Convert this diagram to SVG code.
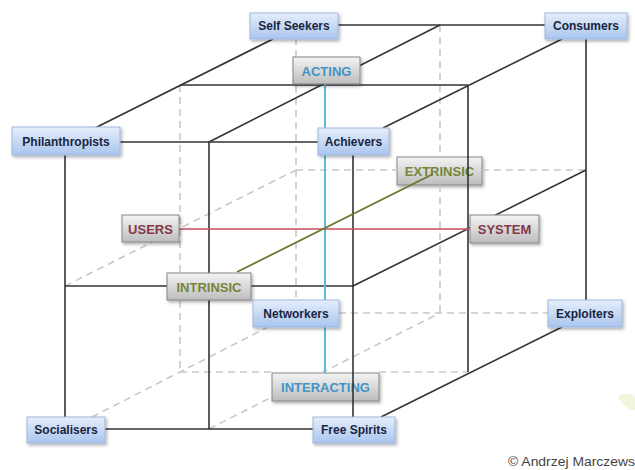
<svg xmlns="http://www.w3.org/2000/svg" width="635" height="470" viewBox="0 0 635 470">
<defs>
<linearGradient id="gNode" x1="0" y1="0" x2="0" y2="1">
<stop offset="0" stop-color="#e6eefb"/>
<stop offset="1" stop-color="#a9c5ee"/>
</linearGradient>
<linearGradient id="gAxis" x1="0" y1="0" x2="0" y2="1">
<stop offset="0" stop-color="#f4f4f4"/>
<stop offset="1" stop-color="#bdbdbd"/>
</linearGradient>
<filter id="sh" x="-20%" y="-30%" width="140%" height="170%">
<feDropShadow dx="1.5" dy="2" stdDeviation="1.5" flood-color="#000" flood-opacity="0.3"/>
</filter>
</defs>
<style>
.node rect{fill:url(#gNode);stroke:#9fb8dc;stroke-width:1;filter:url(#sh)}
.node text{font-family:"Liberation Sans",Arial,sans-serif;font-weight:bold;font-size:12px;fill:#1a2540;text-anchor:middle}
.axis rect{fill:url(#gAxis);stroke:#858585;stroke-width:1;filter:url(#sh)}
.axis text{font-family:"Liberation Sans",Arial,sans-serif;font-weight:bold;font-size:13px;text-anchor:middle}
.solid{stroke:#333;stroke-width:1.6;fill:none}
.dash{stroke:#c9c9c9;stroke-width:1.6;stroke-dasharray:7 5;fill:none}
.blue{fill:#4493c6}
.red{fill:#853848}
.olive{fill:#76863a}
</style>
<rect width="635" height="470" fill="#fff"/>

<g id="EXTRINSIC" class="axis"><rect x="397" y="157" width="85" height="28"/><text x="439.5" y="176" class="olive">EXTRINSIC</text></g>
<g id="INTERACTING" class="axis"><rect x="272" y="373" width="107" height="28"/><text x="325.5" y="392" class="blue">INTERACTING</text></g>

<g id="connectors">
<line class="dash" x1="296" y1="38" x2="296" y2="300"/>
<line class="dash" x1="339" y1="313" x2="548" y2="313"/>
<line class="dash" x1="92" y1="417" x2="268" y2="327"/>
<line class="dash" x1="440" y1="25" x2="440" y2="157"/>
<line class="dash" x1="440" y1="185" x2="440" y2="313"/>
<line class="dash" x1="296" y1="170" x2="397" y2="170"/>
<line class="dash" x1="482" y1="170" x2="586" y2="170"/>
<line class="dash" x1="180" y1="85" x2="180" y2="372"/>
<line class="dash" x1="65" y1="286" x2="296" y2="170"/>
<line class="dash" x1="180" y1="372" x2="272" y2="372"/>
<line class="dash" x1="379" y1="372" x2="468" y2="372"/>
<line class="dash" x1="209" y1="429" x2="272" y2="397"/>
<line class="dash" x1="321" y1="373" x2="440" y2="313"/>

<line class="solid" x1="120" y1="142" x2="318" y2="142"/>
<line class="solid" x1="65" y1="155" x2="65" y2="417"/>
<line class="solid" x1="105" y1="429" x2="313" y2="429"/>
<line class="solid" x1="353" y1="155" x2="353" y2="417"/>
<line class="solid" x1="338" y1="25" x2="545" y2="25"/>
<line class="solid" x1="586" y1="39" x2="586" y2="300"/>
<line class="solid" x1="95" y1="128" x2="273" y2="39"/>
<line class="solid" x1="383" y1="128" x2="562" y2="39"/>
<line class="solid" x1="381" y1="417" x2="562" y2="327"/>
<line class="solid" x1="180" y1="85" x2="468" y2="85"/>
<line class="solid" x1="209" y1="142" x2="440" y2="25"/>
<line class="solid" x1="209" y1="142" x2="209" y2="429"/>
<line class="solid" x1="65" y1="286" x2="353" y2="286"/>
<line class="solid" x1="468" y1="85" x2="468" y2="372"/>
<line class="solid" x1="353" y1="286" x2="586" y2="170"/>

<line x1="325" y1="84" x2="325" y2="373" stroke="#5fbad8" stroke-width="2"/>
<line x1="179" y1="229" x2="470" y2="229" stroke="#c64d5c" stroke-width="1.6"/>
<line x1="237" y1="272" x2="433" y2="174" stroke="#6b7a2e" stroke-width="1.8"/>
</g>

<g id="ACTING" class="axis"><rect x="293" y="57" width="67" height="27"/><text x="326.5" y="75.5" class="blue">ACTING</text></g>
<g id="USERS" class="axis"><rect x="122" y="215" width="57" height="27"/><text x="150.5" y="233.5" class="red">USERS</text></g>
<g id="SYSTEM" class="axis"><rect x="470" y="215" width="69" height="28"/><text x="504.5" y="234" class="red">SYSTEM</text></g>
<g id="INTRINSIC" class="axis"><rect x="167" y="273" width="84" height="27"/><text x="209" y="291.5" class="olive">INTRINSIC</text></g>

<g id="SelfSeekers" class="node"><rect x="250" y="13" width="88" height="26"/><text x="294" y="30">Self Seekers</text></g>
<g id="Consumers" class="node"><rect x="545" y="13" width="82" height="26"/><text x="586" y="30">Consumers</text></g>
<g id="Philanthropists" class="node"><rect x="12" y="127" width="108" height="28"/><text x="66" y="145.5">Philanthropists</text></g>
<g id="Achievers" class="node"><rect x="318" y="128" width="71" height="27"/><text x="353.5" y="146">Achievers</text></g>
<g id="Networkers" class="node"><rect x="253" y="300" width="86" height="27"/><text x="296" y="318">Networkers</text></g>
<g id="Exploiters" class="node"><rect x="548" y="300" width="74" height="27"/><text x="585" y="318">Exploiters</text></g>
<g id="Socialisers" class="node"><rect x="27" y="417" width="78" height="26"/><text x="66" y="434">Socialisers</text></g>
<g id="FreeSpirits" class="node"><rect x="313" y="417" width="82" height="26"/><text x="354" y="434">Free Spirits</text></g>

<path d="M618,396 C626,392 633,394 635,398 L635,410 C628,410 621,404 618,396 Z" fill="#eef3cf" opacity="0.8"/>
<text x="508" y="466" font-family="Liberation Sans,Arial,sans-serif" font-size="12.5" fill="#444" textLength="127" lengthAdjust="spacingAndGlyphs">© Andrzej Marczews</text>
</svg>
